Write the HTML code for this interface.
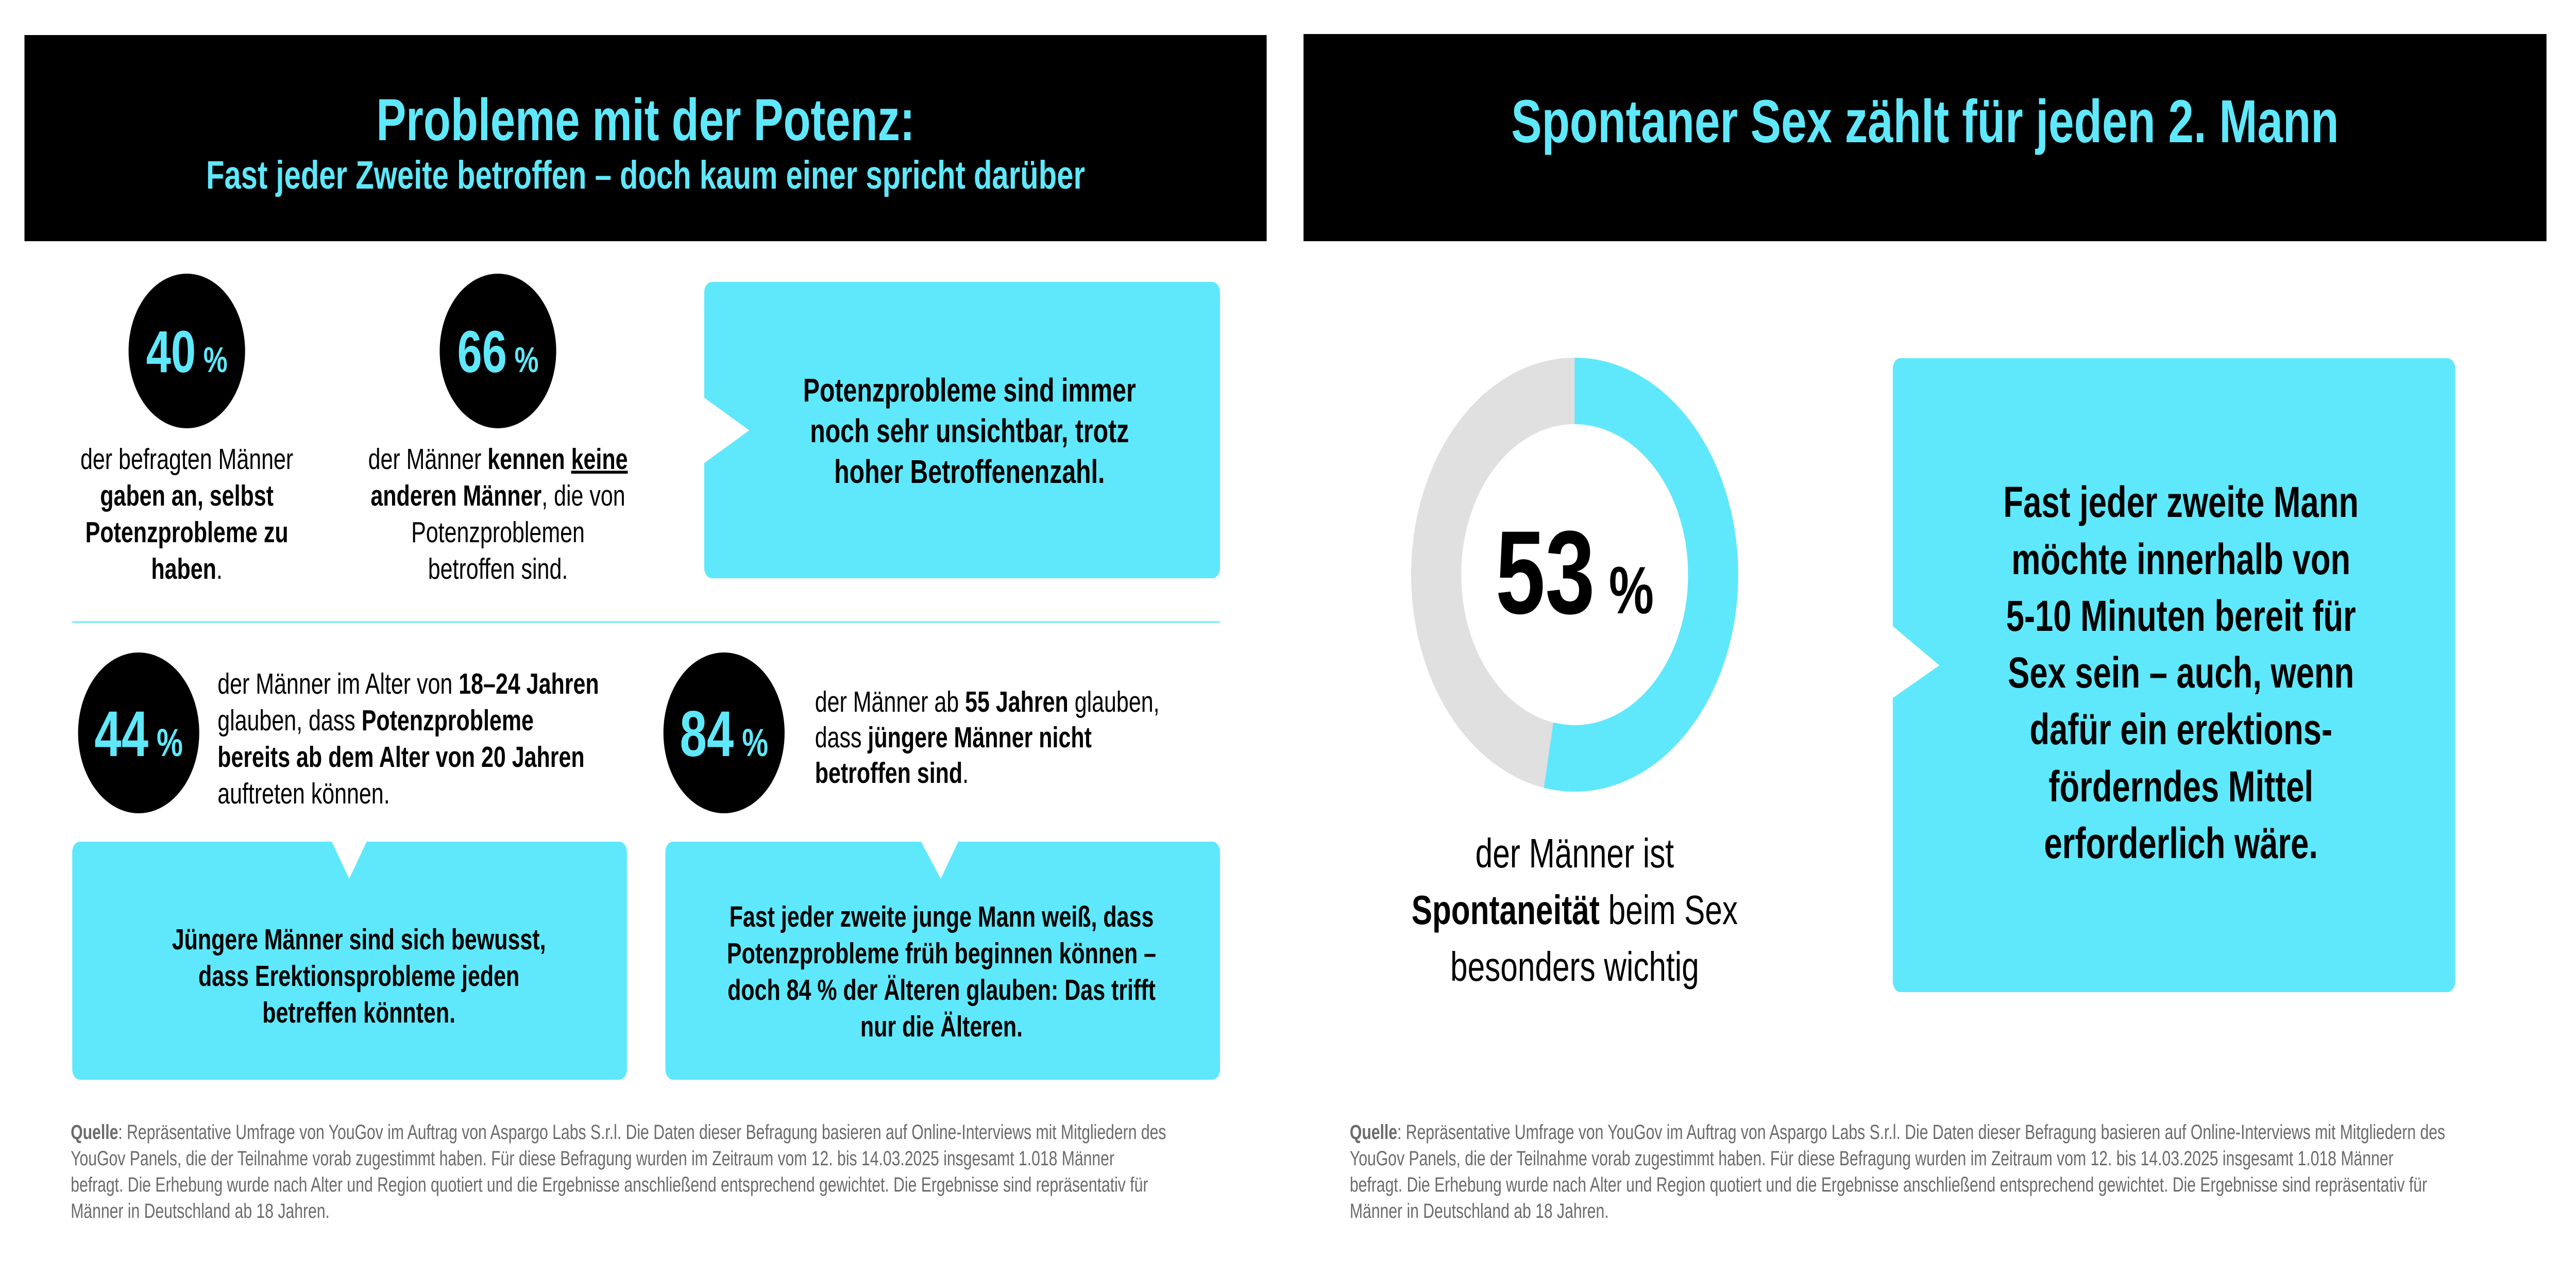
<!DOCTYPE html>
<html><head><meta charset="utf-8"><style>
html,body{margin:0;padding:0;background:#fff;overflow:hidden;width:100%;height:100%;}
svg{display:block;font-family:"Liberation Sans",Arial,sans-serif;width:100vw;height:100vh;}
</style></head><body>
<svg viewBox="0 0 6632 2470" preserveAspectRatio="none" xmlns="http://www.w3.org/2000/svg">
<rect width="6632" height="2470" fill="#fff"/>
<!-- headers -->
<rect x="63" y="68" width="3198" height="400" fill="#000"/>
<rect x="3356" y="66" width="3200" height="402" fill="#000"/>
<text x="1662" y="272" font-size="115" font-weight="bold" fill="#5fe8fb" text-anchor="middle">Probleme mit der Potenz:</text>
<text x="1662" y="366" font-size="77" font-weight="bold" fill="#5fe8fb" text-anchor="middle">Fast jeder Zweite betroffen – doch kaum einer spricht darüber</text>
<text x="4956" y="276" font-size="118" font-weight="bold" fill="#5fe8fb" text-anchor="middle">Spontaner Sex zählt für jeden 2. Mann</text>

<!-- circles -->
<circle cx="481" cy="681" r="150" fill="#000"/>
<circle cx="1282" cy="681" r="150" fill="#000"/>
<circle cx="357" cy="1422" r="156" fill="#000"/>
<circle cx="1864" cy="1422" r="156" fill="#000"/>
<text x="481" y="722" text-anchor="middle" font-weight="bold" fill="#5fe8fb"><tspan font-size="115">40</tspan><tspan font-size="70"> %</tspan></text>
<text x="1282" y="722" text-anchor="middle" font-weight="bold" fill="#5fe8fb"><tspan font-size="115">66</tspan><tspan font-size="70"> %</tspan></text>
<text x="357" y="1467" text-anchor="middle" font-weight="bold" fill="#5fe8fb"><tspan font-size="125">44</tspan><tspan font-size="76"> %</tspan></text>
<text x="1864" y="1467" text-anchor="middle" font-weight="bold" fill="#5fe8fb"><tspan font-size="125">84</tspan><tspan font-size="76"> %</tspan></text>

<!-- texts under top circles -->
<g font-size="57" text-anchor="middle" fill="#000">
<text x="481" y="910">der befragten Männer</text>
<text x="481" y="981" font-weight="bold">gaben an, selbst</text>
<text x="481" y="1052" font-weight="bold">Potenzprobleme zu</text>
<text x="481" y="1123"><tspan font-weight="bold">haben</tspan>.</text>
<text x="1282" y="910">der Männer <tspan font-weight="bold">kennen </tspan><tspan font-weight="bold" text-decoration="underline">keine</tspan></text>
<text x="1282" y="981"><tspan font-weight="bold">anderen Männer</tspan>, die von</text>
<text x="1282" y="1052">Potenzproblemen</text>
<text x="1282" y="1123">betroffen sind.</text>
</g>

<!-- top-right box -->
<rect x="1813" y="547" width="1328" height="575" rx="20" fill="#5fe8fb"/>
<polygon points="1810,770 1929,835 1810,900" fill="#fff"/>
<g font-size="64" font-weight="bold" text-anchor="middle" fill="#000">
<text x="2496" y="779">Potenzprobleme sind immer</text>
<text x="2496" y="858">noch sehr unsichtbar, trotz</text>
<text x="2496" y="937">hoher Betroffenenzahl.</text>
</g>

<line x1="186" y1="1207" x2="3141" y2="1207" stroke="#8feefb" stroke-width="4"/>

<!-- lower texts -->
<g font-size="57" fill="#000">
<text x="560" y="1346">der Männer im Alter von <tspan font-weight="bold">18–24 Jahren</tspan></text>
<text x="560" y="1417">glauben, dass <tspan font-weight="bold">Potenzprobleme</tspan></text>
<text x="560" y="1488" font-weight="bold">bereits ab dem Alter von 20 Jahren</text>
<text x="560" y="1559">auftreten können.</text>
<text x="2098" y="1381">der Männer ab <tspan font-weight="bold">55 Jahren</tspan> glauben,</text>
<text x="2098" y="1450">dass <tspan font-weight="bold">jüngere Männer nicht</tspan></text>
<text x="2098" y="1519"><tspan font-weight="bold">betroffen sind</tspan>.</text>
</g>

<!-- lower boxes -->
<rect x="186" y="1633" width="1428" height="462" rx="20" fill="#5fe8fb"/>
<polygon points="852,1630 899,1705 946,1630" fill="#fff"/>
<rect x="1713" y="1633" width="1428" height="462" rx="20" fill="#5fe8fb"/>
<polygon points="2369,1630 2422,1705 2469,1630" fill="#fff"/>
<g font-size="57" font-weight="bold" text-anchor="middle" fill="#000">
<text x="924" y="1842">Jüngere Männer sind sich bewusst,</text>
<text x="924" y="1913">dass Erektionsprobleme jeden</text>
<text x="924" y="1984">betreffen könnten.</text>
<text x="2424" y="1798">Fast jeder zweite junge Mann weiß, dass</text>
<text x="2424" y="1869">Potenzprobleme früh beginnen können –</text>
<text x="2424" y="1940">doch 84 % der Älteren glauben: Das trifft</text>
<text x="2424" y="2011">nur die Älteren.</text>
</g>

<!-- footers -->
<g font-size="40" fill="#6b6b6b">
<text x="182" y="2210"><tspan font-weight="bold">Quelle</tspan>: Repräsentative Umfrage von YouGov im Auftrag von Aspargo Labs S.r.l. Die Daten dieser Befragung basieren auf Online-Interviews mit Mitgliedern des</text>
<text x="182" y="2261">YouGov Panels, die der Teilnahme vorab zugestimmt haben. Für diese Befragung wurden im Zeitraum vom 12. bis 14.03.2025 insgesamt 1.018 Männer</text>
<text x="182" y="2312">befragt. Die Erhebung wurde nach Alter und Region quotiert und die Ergebnisse anschließend entsprechend gewichtet. Die Ergebnisse sind repräsentativ für</text>
<text x="182" y="2363">Männer in Deutschland ab 18 Jahren.</text>
<text x="3475" y="2210"><tspan font-weight="bold">Quelle</tspan>: Repräsentative Umfrage von YouGov im Auftrag von Aspargo Labs S.r.l. Die Daten dieser Befragung basieren auf Online-Interviews mit Mitgliedern des</text>
<text x="3475" y="2261">YouGov Panels, die der Teilnahme vorab zugestimmt haben. Für diese Befragung wurden im Zeitraum vom 12. bis 14.03.2025 insgesamt 1.018 Männer</text>
<text x="3475" y="2312">befragt. Die Erhebung wurde nach Alter und Region quotiert und die Ergebnisse anschließend entsprechend gewichtet. Die Ergebnisse sind repräsentativ für</text>
<text x="3475" y="2363">Männer in Deutschland ab 18 Jahren.</text>
</g>

<!-- donut -->
<circle cx="4054" cy="1115" r="356.5" fill="none" stroke="#e0e0e0" stroke-width="129"/>
<circle cx="4054" cy="1115" r="356.5" fill="none" stroke="#5fe8fb" stroke-width="129" stroke-dasharray="1187.2 2240" transform="rotate(-90 4054 1115)"/>
<text x="4054" y="1190" text-anchor="middle" font-weight="bold" fill="#000"><tspan font-size="230">53</tspan><tspan font-size="130"> %</tspan></text>
<g font-size="80" text-anchor="middle" fill="#000">
<text x="4054" y="1683">der Männer ist</text>
<text x="4054" y="1793"><tspan font-weight="bold">Spontaneität</tspan> beim Sex</text>
<text x="4054" y="1903">besonders wichtig</text>
</g>

<!-- right box -->
<rect x="4873" y="695" width="1448" height="1230" rx="20" fill="#5fe8fb"/>
<polygon points="4870,1213 4993,1291 4870,1356" fill="#fff"/>
<g font-size="84" font-weight="bold" text-anchor="middle" fill="#000">
<text x="5615" y="1003">Fast jeder zweite Mann</text>
<text x="5615" y="1114">möchte innerhalb von</text>
<text x="5615" y="1224">5-10 Minuten bereit für</text>
<text x="5615" y="1334">Sex sein – auch, wenn</text>
<text x="5615" y="1444">dafür ein erektions-</text>
<text x="5615" y="1555">förderndes Mittel</text>
<text x="5615" y="1665">erforderlich wäre.</text>
</g>
</svg>
</body></html>
